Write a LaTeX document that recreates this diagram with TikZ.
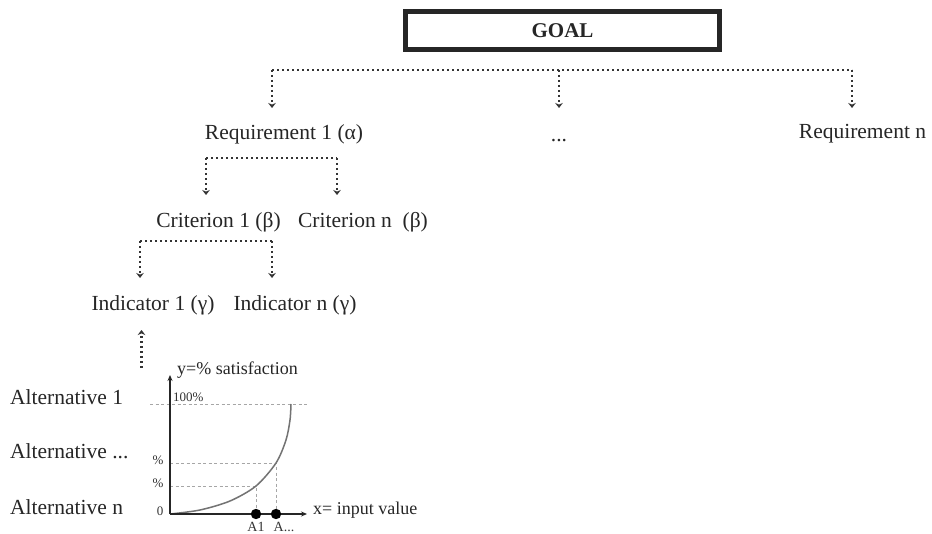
\documentclass[tikz,border=0pt]{standalone}
\usepackage{fontspec}
\setmainfont{Liberation Serif}
\usetikzlibrary{arrows.meta}
\begin{document}
\begin{tikzpicture}[x=1pt,y=-1pt,
  lbl/.style={inner sep=0pt,font=\fontsize{21.5}{24}\selectfont,text=black!85},
  small/.style={inner sep=0pt,font=\fontsize{13}{15}\selectfont,text=black!80},
  axlbl/.style={inner sep=0pt,font=\fontsize{18}{20}\selectfont,text=black!85},
  conn/.style={draw=black!80,line width=2.3pt,dash pattern=on 2.4pt off 2.6pt},
  arr/.style={conn,-{Stealth[length=5pt,width=7.5pt]}},
  guide/.style={draw=black!35,line width=0.8pt,dash pattern=on 3pt off 2.5pt},
  axis/.style={draw=black!85,line width=1.6pt,-{Stealth[length=6pt,width=5pt]}}]
\useasboundingbox (0,0) rectangle (932,534);
\fill[white] (0,0) rectangle (932,534);

% GOAL box
\node[draw=black!85,line width=5pt,minimum width=314pt,minimum height=38pt,inner sep=0pt,
  font=\fontsize{21}{24}\selectfont\bfseries,text=black!85] (goal) at (562.5,30.5) {GOAL};

% Level 1
\node[lbl] (req1) at (284,134) {Requirement 1 (α)};
\node[lbl,anchor=base] (reqd) at (559,142) {...};
\node[lbl] (reqn) at (862.5,134) {Requirement n};

\coordinate (t1) at (272,70);
\coordinate (t2) at (559,70);
\coordinate (t3) at (852,70);
\coordinate (e1) at (272,108);
\coordinate (e2) at (559,108);
\coordinate (e3) at (852,108);
\draw[conn] (t1) -- (t3);
\draw[arr] (t1) -- (e1);
\draw[arr] (t2) -- (e2);
\draw[arr] (t3) -- (e3);

% Level 2
\node[lbl] (crit1) at (218.5,222) {Criterion 1 (β)};
\node[lbl] (critn) at (363,222) {Criterion n\ \ (β)};
\coordinate (s1) at (206,158);
\coordinate (s2) at (337,158);
\coordinate (f1) at (206,195);
\coordinate (f2) at (337,195);
\draw[conn] (s1) -- (s2);
\draw[arr] (s1) -- (f1);
\draw[arr] (s2) -- (f2);

% Level 3
\node[lbl] (ind1) at (153,305) {Indicator 1 (γ)};
\node[lbl] (indn) at (295,305) {Indicator n (γ)};
\coordinate (u1) at (140,241);
\coordinate (u2) at (272,241);
\coordinate (g1) at (140,278);
\coordinate (g2) at (272,278);
\draw[conn] (u1) -- (u2);
\draw[arr] (u1) -- (g1);
\draw[arr] (u2) -- (g2);

% upward arrow
\coordinate (up0) at (141.5,368);
\coordinate (up1) at (141.5,330);
\draw[arr] (up0) -- (up1);

% Alternatives
\node[lbl,anchor=west] (alt1) at (10,397) {Alternative 1};
\node[lbl,anchor=west] (altd) at (10,451) {Alternative ...};
\node[lbl,anchor=west] (altn) at (10,507) {Alternative n};

% Chart
\coordinate (O) at (170,514);
\coordinate (ytop) at (170,375);
\coordinate (xend) at (307,514);
\draw[guide] (150,404) -- (308,404);
\draw[guide] (170,463) -- (276,463) -- (276,514);
\draw[guide] (170,486) -- (256,486) -- (256,514);
\draw[draw=black!55,line width=1.5pt] plot[smooth] coordinates
  {(170,514) (200,510) (230,501) (256,486) (276,463) (286,440) (290,420) (291,404)};
\draw[axis] (O) -- (ytop);
\draw[axis] (O) -- (xend);
\fill[black] (256,514) circle (5.2pt);
\fill[black] (276,514) circle (5.2pt);

\node[axlbl,anchor=west] (ylab) at (177,370) {y=\% satisfaction};
\node[axlbl,anchor=west] (xlab) at (313,510) {x= input value};
\node[small,anchor=west] (p100) at (173,397) {100\%};
\node[small] (pa) at (158,460) {\%};
\node[small] (pb) at (158,483) {\%};
\node[small] (zero) at (160,511) {0};
\node[small,font=\fontsize{14}{16}\selectfont] (a1) at (256,527) {A1};
\node[small,font=\fontsize{14}{16}\selectfont] (an) at (284,527) {A...};
\end{tikzpicture}
\end{document}
